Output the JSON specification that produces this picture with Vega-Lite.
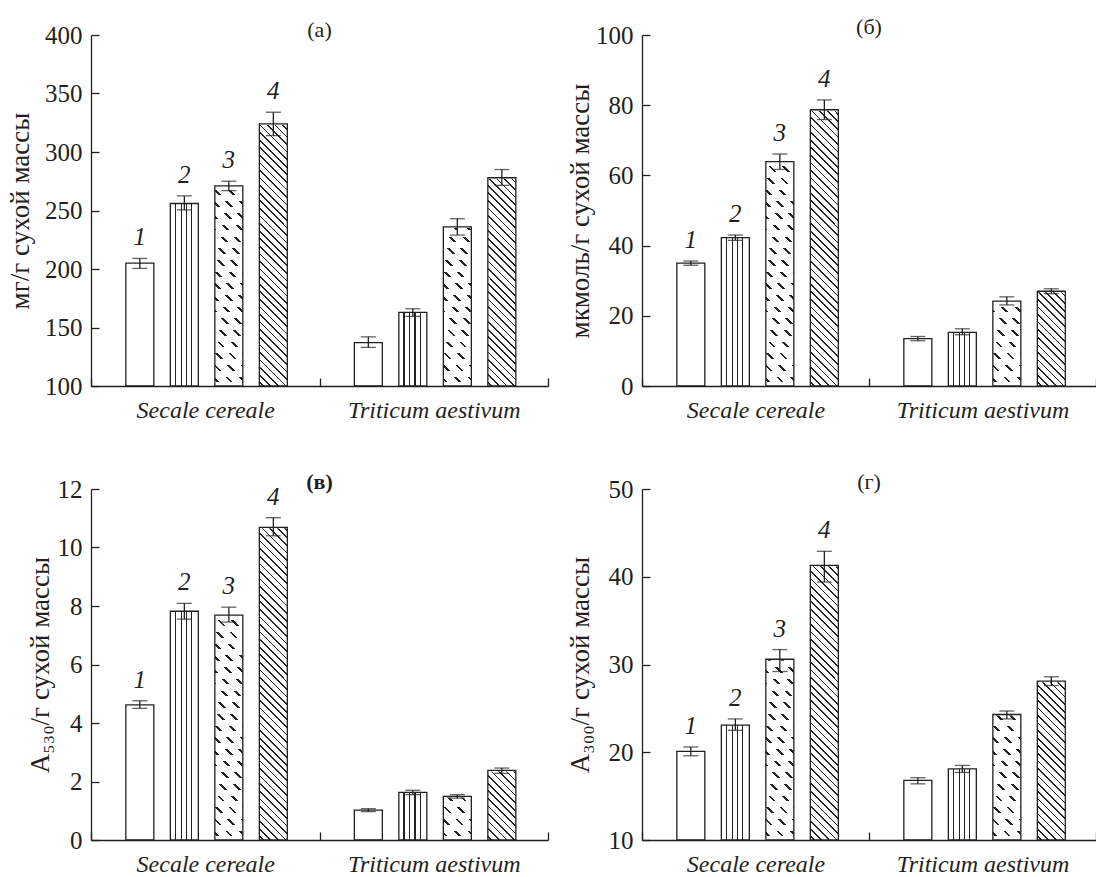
{
  "$schema": "https://vega.github.io/schema/vega-lite/v6.json",
  "padding": {"left": 6, "top": 16, "right": 0, "bottom": 0},
  "bounds": "flush",
  "columns": 2,
  "spacing": {"row": 103, "column": 94},
  "params": [
    {"name": "gs", "value": {"gradient": "linear", "x1": 0, "y1": 0, "x2": 1, "y2": 0, "stops": [
        {"offset": 0, "color": "#fff"},
        {"offset": 0.158, "color": "#fff"}, {"offset": 0.158, "color": "#222"}, {"offset": 0.203, "color": "#222"}, {"offset": 0.203, "color": "#fff"},
        {"offset": 0.368, "color": "#fff"}, {"offset": 0.368, "color": "#222"}, {"offset": 0.413, "color": "#222"}, {"offset": 0.413, "color": "#fff"},
        {"offset": 0.558, "color": "#fff"}, {"offset": 0.558, "color": "#222"}, {"offset": 0.603, "color": "#222"}, {"offset": 0.603, "color": "#fff"},
        {"offset": 0.738, "color": "#fff"}, {"offset": 0.738, "color": "#222"}, {"offset": 0.783, "color": "#222"}, {"offset": 0.783, "color": "#fff"},
        {"offset": 1, "color": "#fff"}]}},
    {"name": "g4", "value": {"gradient": "linear", "x1": 0, "y1": 1, "x2": 0.0856, "y2": -0.073, "stops": [
        {"offset": 0, "color": "#fff"},
        {"offset": 0.008, "color": "#fff"}, {"offset": 0.008, "color": "#222"}, {"offset": 0.0125, "color": "#222"}, {"offset": 0.0125, "color": "#fff"},
        {"offset": 0.028, "color": "#fff"}, {"offset": 0.028, "color": "#222"}, {"offset": 0.0325, "color": "#222"}, {"offset": 0.0325, "color": "#fff"},
        {"offset": 0.048, "color": "#fff"}, {"offset": 0.048, "color": "#222"}, {"offset": 0.0525, "color": "#222"}, {"offset": 0.0525, "color": "#fff"},
        {"offset": 0.068, "color": "#fff"}, {"offset": 0.068, "color": "#222"}, {"offset": 0.0725, "color": "#222"}, {"offset": 0.0725, "color": "#fff"},
        {"offset": 0.088, "color": "#fff"}, {"offset": 0.088, "color": "#222"}, {"offset": 0.0925, "color": "#222"}, {"offset": 0.0925, "color": "#fff"},
        {"offset": 0.108, "color": "#fff"}, {"offset": 0.108, "color": "#222"}, {"offset": 0.1125, "color": "#222"}, {"offset": 0.1125, "color": "#fff"},
        {"offset": 0.128, "color": "#fff"}, {"offset": 0.128, "color": "#222"}, {"offset": 0.1325, "color": "#222"}, {"offset": 0.1325, "color": "#fff"},
        {"offset": 0.148, "color": "#fff"}, {"offset": 0.148, "color": "#222"}, {"offset": 0.1525, "color": "#222"}, {"offset": 0.1525, "color": "#fff"},
        {"offset": 0.168, "color": "#fff"}, {"offset": 0.168, "color": "#222"}, {"offset": 0.1725, "color": "#222"}, {"offset": 0.1725, "color": "#fff"},
        {"offset": 0.188, "color": "#fff"}, {"offset": 0.188, "color": "#222"}, {"offset": 0.1925, "color": "#222"}, {"offset": 0.1925, "color": "#fff"},
        {"offset": 0.208, "color": "#fff"}, {"offset": 0.208, "color": "#222"}, {"offset": 0.2125, "color": "#222"}, {"offset": 0.2125, "color": "#fff"},
        {"offset": 0.228, "color": "#fff"}, {"offset": 0.228, "color": "#222"}, {"offset": 0.2325, "color": "#222"}, {"offset": 0.2325, "color": "#fff"},
        {"offset": 0.248, "color": "#fff"}, {"offset": 0.248, "color": "#222"}, {"offset": 0.2525, "color": "#222"}, {"offset": 0.2525, "color": "#fff"},
        {"offset": 0.268, "color": "#fff"}, {"offset": 0.268, "color": "#222"}, {"offset": 0.2725, "color": "#222"}, {"offset": 0.2725, "color": "#fff"},
        {"offset": 0.288, "color": "#fff"}, {"offset": 0.288, "color": "#222"}, {"offset": 0.2925, "color": "#222"}, {"offset": 0.2925, "color": "#fff"},
        {"offset": 0.308, "color": "#fff"}, {"offset": 0.308, "color": "#222"}, {"offset": 0.3125, "color": "#222"}, {"offset": 0.3125, "color": "#fff"},
        {"offset": 0.328, "color": "#fff"}, {"offset": 0.328, "color": "#222"}, {"offset": 0.3325, "color": "#222"}, {"offset": 0.3325, "color": "#fff"},
        {"offset": 0.348, "color": "#fff"}, {"offset": 0.348, "color": "#222"}, {"offset": 0.3525, "color": "#222"}, {"offset": 0.3525, "color": "#fff"},
        {"offset": 0.368, "color": "#fff"}, {"offset": 0.368, "color": "#222"}, {"offset": 0.3725, "color": "#222"}, {"offset": 0.3725, "color": "#fff"},
        {"offset": 0.388, "color": "#fff"}, {"offset": 0.388, "color": "#222"}, {"offset": 0.3925, "color": "#222"}, {"offset": 0.3925, "color": "#fff"},
        {"offset": 0.408, "color": "#fff"}, {"offset": 0.408, "color": "#222"}, {"offset": 0.4125, "color": "#222"}, {"offset": 0.4125, "color": "#fff"},
        {"offset": 0.428, "color": "#fff"}, {"offset": 0.428, "color": "#222"}, {"offset": 0.4325, "color": "#222"}, {"offset": 0.4325, "color": "#fff"},
        {"offset": 0.448, "color": "#fff"}, {"offset": 0.448, "color": "#222"}, {"offset": 0.4525, "color": "#222"}, {"offset": 0.4525, "color": "#fff"},
        {"offset": 0.468, "color": "#fff"}, {"offset": 0.468, "color": "#222"}, {"offset": 0.4725, "color": "#222"}, {"offset": 0.4725, "color": "#fff"},
        {"offset": 0.488, "color": "#fff"}, {"offset": 0.488, "color": "#222"}, {"offset": 0.4925, "color": "#222"}, {"offset": 0.4925, "color": "#fff"},
        {"offset": 0.508, "color": "#fff"}, {"offset": 0.508, "color": "#222"}, {"offset": 0.5125, "color": "#222"}, {"offset": 0.5125, "color": "#fff"},
        {"offset": 0.528, "color": "#fff"}, {"offset": 0.528, "color": "#222"}, {"offset": 0.5325, "color": "#222"}, {"offset": 0.5325, "color": "#fff"},
        {"offset": 0.548, "color": "#fff"}, {"offset": 0.548, "color": "#222"}, {"offset": 0.5525, "color": "#222"}, {"offset": 0.5525, "color": "#fff"},
        {"offset": 0.568, "color": "#fff"}, {"offset": 0.568, "color": "#222"}, {"offset": 0.5725, "color": "#222"}, {"offset": 0.5725, "color": "#fff"},
        {"offset": 0.588, "color": "#fff"}, {"offset": 0.588, "color": "#222"}, {"offset": 0.5925, "color": "#222"}, {"offset": 0.5925, "color": "#fff"},
        {"offset": 0.608, "color": "#fff"}, {"offset": 0.608, "color": "#222"}, {"offset": 0.6125, "color": "#222"}, {"offset": 0.6125, "color": "#fff"},
        {"offset": 0.628, "color": "#fff"}, {"offset": 0.628, "color": "#222"}, {"offset": 0.6325, "color": "#222"}, {"offset": 0.6325, "color": "#fff"},
        {"offset": 0.648, "color": "#fff"}, {"offset": 0.648, "color": "#222"}, {"offset": 0.6525, "color": "#222"}, {"offset": 0.6525, "color": "#fff"},
        {"offset": 0.668, "color": "#fff"}, {"offset": 0.668, "color": "#222"}, {"offset": 0.6725, "color": "#222"}, {"offset": 0.6725, "color": "#fff"},
        {"offset": 0.688, "color": "#fff"}, {"offset": 0.688, "color": "#222"}, {"offset": 0.6925, "color": "#222"}, {"offset": 0.6925, "color": "#fff"},
        {"offset": 0.708, "color": "#fff"}, {"offset": 0.708, "color": "#222"}, {"offset": 0.7125, "color": "#222"}, {"offset": 0.7125, "color": "#fff"},
        {"offset": 0.728, "color": "#fff"}, {"offset": 0.728, "color": "#222"}, {"offset": 0.7325, "color": "#222"}, {"offset": 0.7325, "color": "#fff"},
        {"offset": 0.748, "color": "#fff"}, {"offset": 0.748, "color": "#222"}, {"offset": 0.7525, "color": "#222"}, {"offset": 0.7525, "color": "#fff"},
        {"offset": 0.768, "color": "#fff"}, {"offset": 0.768, "color": "#222"}, {"offset": 0.7725, "color": "#222"}, {"offset": 0.7725, "color": "#fff"},
        {"offset": 0.788, "color": "#fff"}, {"offset": 0.788, "color": "#222"}, {"offset": 0.7925, "color": "#222"}, {"offset": 0.7925, "color": "#fff"},
        {"offset": 0.808, "color": "#fff"}, {"offset": 0.808, "color": "#222"}, {"offset": 0.8125, "color": "#222"}, {"offset": 0.8125, "color": "#fff"},
        {"offset": 0.828, "color": "#fff"}, {"offset": 0.828, "color": "#222"}, {"offset": 0.8325, "color": "#222"}, {"offset": 0.8325, "color": "#fff"},
        {"offset": 0.848, "color": "#fff"}, {"offset": 0.848, "color": "#222"}, {"offset": 0.8525, "color": "#222"}, {"offset": 0.8525, "color": "#fff"},
        {"offset": 0.868, "color": "#fff"}, {"offset": 0.868, "color": "#222"}, {"offset": 0.8725, "color": "#222"}, {"offset": 0.8725, "color": "#fff"},
        {"offset": 0.888, "color": "#fff"}, {"offset": 0.888, "color": "#222"}, {"offset": 0.8925, "color": "#222"}, {"offset": 0.8925, "color": "#fff"},
        {"offset": 0.908, "color": "#fff"}, {"offset": 0.908, "color": "#222"}, {"offset": 0.9125, "color": "#222"}, {"offset": 0.9125, "color": "#fff"},
        {"offset": 0.928, "color": "#fff"}, {"offset": 0.928, "color": "#222"}, {"offset": 0.9325, "color": "#222"}, {"offset": 0.9325, "color": "#fff"},
        {"offset": 0.948, "color": "#fff"}, {"offset": 0.948, "color": "#222"}, {"offset": 0.9525, "color": "#222"}, {"offset": 0.9525, "color": "#fff"},
        {"offset": 0.968, "color": "#fff"}, {"offset": 0.968, "color": "#222"}, {"offset": 0.9725, "color": "#222"}, {"offset": 0.9725, "color": "#fff"},
        {"offset": 0.988, "color": "#fff"}, {"offset": 0.988, "color": "#222"}, {"offset": 0.9925, "color": "#222"}, {"offset": 0.9925, "color": "#fff"},
        {"offset": 1, "color": "#fff"}]}},
    {"name": "g3", "value": {"gradient": "linear", "x1": 0, "y1": 1, "x2": 0.0856, "y2": -0.073, "stops": [
        {"offset": 0, "color": "#fff"},
        {"offset": 0.015, "color": "#fff"}, {"offset": 0.015, "color": "#222"}, {"offset": 0.0225, "color": "#222"}, {"offset": 0.0225, "color": "#fff"},
        {"offset": 0.0507, "color": "#fff"}, {"offset": 0.0507, "color": "#222"}, {"offset": 0.0582, "color": "#222"}, {"offset": 0.0582, "color": "#fff"},
        {"offset": 0.0864, "color": "#fff"}, {"offset": 0.0864, "color": "#222"}, {"offset": 0.0939, "color": "#222"}, {"offset": 0.0939, "color": "#fff"},
        {"offset": 0.1221, "color": "#fff"}, {"offset": 0.1221, "color": "#222"}, {"offset": 0.1296, "color": "#222"}, {"offset": 0.1296, "color": "#fff"},
        {"offset": 0.1578, "color": "#fff"}, {"offset": 0.1578, "color": "#222"}, {"offset": 0.1653, "color": "#222"}, {"offset": 0.1653, "color": "#fff"},
        {"offset": 0.1935, "color": "#fff"}, {"offset": 0.1935, "color": "#222"}, {"offset": 0.201, "color": "#222"}, {"offset": 0.201, "color": "#fff"},
        {"offset": 0.2292, "color": "#fff"}, {"offset": 0.2292, "color": "#222"}, {"offset": 0.2367, "color": "#222"}, {"offset": 0.2367, "color": "#fff"},
        {"offset": 0.2649, "color": "#fff"}, {"offset": 0.2649, "color": "#222"}, {"offset": 0.2724, "color": "#222"}, {"offset": 0.2724, "color": "#fff"},
        {"offset": 0.3006, "color": "#fff"}, {"offset": 0.3006, "color": "#222"}, {"offset": 0.3081, "color": "#222"}, {"offset": 0.3081, "color": "#fff"},
        {"offset": 0.3363, "color": "#fff"}, {"offset": 0.3363, "color": "#222"}, {"offset": 0.3438, "color": "#222"}, {"offset": 0.3438, "color": "#fff"},
        {"offset": 0.372, "color": "#fff"}, {"offset": 0.372, "color": "#222"}, {"offset": 0.3795, "color": "#222"}, {"offset": 0.3795, "color": "#fff"},
        {"offset": 0.4077, "color": "#fff"}, {"offset": 0.4077, "color": "#222"}, {"offset": 0.4152, "color": "#222"}, {"offset": 0.4152, "color": "#fff"},
        {"offset": 0.4434, "color": "#fff"}, {"offset": 0.4434, "color": "#222"}, {"offset": 0.4509, "color": "#222"}, {"offset": 0.4509, "color": "#fff"},
        {"offset": 0.4791, "color": "#fff"}, {"offset": 0.4791, "color": "#222"}, {"offset": 0.4866, "color": "#222"}, {"offset": 0.4866, "color": "#fff"},
        {"offset": 0.5148, "color": "#fff"}, {"offset": 0.5148, "color": "#222"}, {"offset": 0.5223, "color": "#222"}, {"offset": 0.5223, "color": "#fff"},
        {"offset": 0.5505, "color": "#fff"}, {"offset": 0.5505, "color": "#222"}, {"offset": 0.558, "color": "#222"}, {"offset": 0.558, "color": "#fff"},
        {"offset": 0.5862, "color": "#fff"}, {"offset": 0.5862, "color": "#222"}, {"offset": 0.5937, "color": "#222"}, {"offset": 0.5937, "color": "#fff"},
        {"offset": 0.6219, "color": "#fff"}, {"offset": 0.6219, "color": "#222"}, {"offset": 0.6294, "color": "#222"}, {"offset": 0.6294, "color": "#fff"},
        {"offset": 0.6576, "color": "#fff"}, {"offset": 0.6576, "color": "#222"}, {"offset": 0.6651, "color": "#222"}, {"offset": 0.6651, "color": "#fff"},
        {"offset": 0.6933, "color": "#fff"}, {"offset": 0.6933, "color": "#222"}, {"offset": 0.7008, "color": "#222"}, {"offset": 0.7008, "color": "#fff"},
        {"offset": 0.729, "color": "#fff"}, {"offset": 0.729, "color": "#222"}, {"offset": 0.7365, "color": "#222"}, {"offset": 0.7365, "color": "#fff"},
        {"offset": 0.7647, "color": "#fff"}, {"offset": 0.7647, "color": "#222"}, {"offset": 0.7722, "color": "#222"}, {"offset": 0.7722, "color": "#fff"},
        {"offset": 0.8004, "color": "#fff"}, {"offset": 0.8004, "color": "#222"}, {"offset": 0.8079, "color": "#222"}, {"offset": 0.8079, "color": "#fff"},
        {"offset": 0.8361, "color": "#fff"}, {"offset": 0.8361, "color": "#222"}, {"offset": 0.8436, "color": "#222"}, {"offset": 0.8436, "color": "#fff"},
        {"offset": 0.8718, "color": "#fff"}, {"offset": 0.8718, "color": "#222"}, {"offset": 0.8793, "color": "#222"}, {"offset": 0.8793, "color": "#fff"},
        {"offset": 0.9075, "color": "#fff"}, {"offset": 0.9075, "color": "#222"}, {"offset": 0.915, "color": "#222"}, {"offset": 0.915, "color": "#fff"},
        {"offset": 0.9432, "color": "#fff"}, {"offset": 0.9432, "color": "#222"}, {"offset": 0.9507, "color": "#222"}, {"offset": 0.9507, "color": "#fff"},
        {"offset": 0.9789, "color": "#fff"}, {"offset": 0.9789, "color": "#222"}, {"offset": 0.9864, "color": "#222"}, {"offset": 0.9864, "color": "#fff"},
        {"offset": 1, "color": "#fff"}]}},
    {"name": "gb", "value": {"gradient": "linear", "x1": 0, "y1": 0, "x2": 0, "y2": 1, "stops": [
        {"offset": 0, "color": "#fff"},
        {"offset": 0.008, "color": "#fff"}, {"offset": 0.008, "color": "rgba(255,255,255,0)"}, {"offset": 0.024, "color": "rgba(255,255,255,0)"}, {"offset": 0.024, "color": "#fff"},
        {"offset": 0.0413, "color": "#fff"}, {"offset": 0.0413, "color": "rgba(255,255,255,0)"}, {"offset": 0.0573, "color": "rgba(255,255,255,0)"}, {"offset": 0.0573, "color": "#fff"},
        {"offset": 0.0746, "color": "#fff"}, {"offset": 0.0746, "color": "rgba(255,255,255,0)"}, {"offset": 0.0906, "color": "rgba(255,255,255,0)"}, {"offset": 0.0906, "color": "#fff"},
        {"offset": 0.1079, "color": "#fff"}, {"offset": 0.1079, "color": "rgba(255,255,255,0)"}, {"offset": 0.1239, "color": "rgba(255,255,255,0)"}, {"offset": 0.1239, "color": "#fff"},
        {"offset": 0.1412, "color": "#fff"}, {"offset": 0.1412, "color": "rgba(255,255,255,0)"}, {"offset": 0.1572, "color": "rgba(255,255,255,0)"}, {"offset": 0.1572, "color": "#fff"},
        {"offset": 0.1745, "color": "#fff"}, {"offset": 0.1745, "color": "rgba(255,255,255,0)"}, {"offset": 0.1905, "color": "rgba(255,255,255,0)"}, {"offset": 0.1905, "color": "#fff"},
        {"offset": 0.2078, "color": "#fff"}, {"offset": 0.2078, "color": "rgba(255,255,255,0)"}, {"offset": 0.2238, "color": "rgba(255,255,255,0)"}, {"offset": 0.2238, "color": "#fff"},
        {"offset": 0.2411, "color": "#fff"}, {"offset": 0.2411, "color": "rgba(255,255,255,0)"}, {"offset": 0.2571, "color": "rgba(255,255,255,0)"}, {"offset": 0.2571, "color": "#fff"},
        {"offset": 0.2744, "color": "#fff"}, {"offset": 0.2744, "color": "rgba(255,255,255,0)"}, {"offset": 0.2904, "color": "rgba(255,255,255,0)"}, {"offset": 0.2904, "color": "#fff"},
        {"offset": 0.3077, "color": "#fff"}, {"offset": 0.3077, "color": "rgba(255,255,255,0)"}, {"offset": 0.3237, "color": "rgba(255,255,255,0)"}, {"offset": 0.3237, "color": "#fff"},
        {"offset": 0.341, "color": "#fff"}, {"offset": 0.341, "color": "rgba(255,255,255,0)"}, {"offset": 0.357, "color": "rgba(255,255,255,0)"}, {"offset": 0.357, "color": "#fff"},
        {"offset": 0.3743, "color": "#fff"}, {"offset": 0.3743, "color": "rgba(255,255,255,0)"}, {"offset": 0.3903, "color": "rgba(255,255,255,0)"}, {"offset": 0.3903, "color": "#fff"},
        {"offset": 0.4076, "color": "#fff"}, {"offset": 0.4076, "color": "rgba(255,255,255,0)"}, {"offset": 0.4236, "color": "rgba(255,255,255,0)"}, {"offset": 0.4236, "color": "#fff"},
        {"offset": 0.4409, "color": "#fff"}, {"offset": 0.4409, "color": "rgba(255,255,255,0)"}, {"offset": 0.4569, "color": "rgba(255,255,255,0)"}, {"offset": 0.4569, "color": "#fff"},
        {"offset": 0.4742, "color": "#fff"}, {"offset": 0.4742, "color": "rgba(255,255,255,0)"}, {"offset": 0.4902, "color": "rgba(255,255,255,0)"}, {"offset": 0.4902, "color": "#fff"},
        {"offset": 0.5075, "color": "#fff"}, {"offset": 0.5075, "color": "rgba(255,255,255,0)"}, {"offset": 0.5235, "color": "rgba(255,255,255,0)"}, {"offset": 0.5235, "color": "#fff"},
        {"offset": 0.5408, "color": "#fff"}, {"offset": 0.5408, "color": "rgba(255,255,255,0)"}, {"offset": 0.5568, "color": "rgba(255,255,255,0)"}, {"offset": 0.5568, "color": "#fff"},
        {"offset": 0.5741, "color": "#fff"}, {"offset": 0.5741, "color": "rgba(255,255,255,0)"}, {"offset": 0.5901, "color": "rgba(255,255,255,0)"}, {"offset": 0.5901, "color": "#fff"},
        {"offset": 0.6074, "color": "#fff"}, {"offset": 0.6074, "color": "rgba(255,255,255,0)"}, {"offset": 0.6234, "color": "rgba(255,255,255,0)"}, {"offset": 0.6234, "color": "#fff"},
        {"offset": 0.6407, "color": "#fff"}, {"offset": 0.6407, "color": "rgba(255,255,255,0)"}, {"offset": 0.6567, "color": "rgba(255,255,255,0)"}, {"offset": 0.6567, "color": "#fff"},
        {"offset": 0.674, "color": "#fff"}, {"offset": 0.674, "color": "rgba(255,255,255,0)"}, {"offset": 0.69, "color": "rgba(255,255,255,0)"}, {"offset": 0.69, "color": "#fff"},
        {"offset": 0.7073, "color": "#fff"}, {"offset": 0.7073, "color": "rgba(255,255,255,0)"}, {"offset": 0.7233, "color": "rgba(255,255,255,0)"}, {"offset": 0.7233, "color": "#fff"},
        {"offset": 0.7406, "color": "#fff"}, {"offset": 0.7406, "color": "rgba(255,255,255,0)"}, {"offset": 0.7566, "color": "rgba(255,255,255,0)"}, {"offset": 0.7566, "color": "#fff"},
        {"offset": 0.7739, "color": "#fff"}, {"offset": 0.7739, "color": "rgba(255,255,255,0)"}, {"offset": 0.7899, "color": "rgba(255,255,255,0)"}, {"offset": 0.7899, "color": "#fff"},
        {"offset": 0.8072, "color": "#fff"}, {"offset": 0.8072, "color": "rgba(255,255,255,0)"}, {"offset": 0.8232, "color": "rgba(255,255,255,0)"}, {"offset": 0.8232, "color": "#fff"},
        {"offset": 0.8405, "color": "#fff"}, {"offset": 0.8405, "color": "rgba(255,255,255,0)"}, {"offset": 0.8565, "color": "rgba(255,255,255,0)"}, {"offset": 0.8565, "color": "#fff"},
        {"offset": 0.8738, "color": "#fff"}, {"offset": 0.8738, "color": "rgba(255,255,255,0)"}, {"offset": 0.8898, "color": "rgba(255,255,255,0)"}, {"offset": 0.8898, "color": "#fff"},
        {"offset": 0.9071, "color": "#fff"}, {"offset": 0.9071, "color": "rgba(255,255,255,0)"}, {"offset": 0.9231, "color": "rgba(255,255,255,0)"}, {"offset": 0.9231, "color": "#fff"},
        {"offset": 0.9404, "color": "#fff"}, {"offset": 0.9404, "color": "rgba(255,255,255,0)"}, {"offset": 0.9564, "color": "rgba(255,255,255,0)"}, {"offset": 0.9564, "color": "#fff"},
        {"offset": 0.9737, "color": "#fff"}, {"offset": 0.9737, "color": "rgba(255,255,255,0)"}, {"offset": 0.9897, "color": "rgba(255,255,255,0)"}, {"offset": 0.9897, "color": "#fff"},
        {"offset": 1, "color": "#fff"}]}}
  ],
  "data": {"values": [
    {"p": "a", "sp": "Secale cereale", "t": 1, "v": 205, "lo": 200.5, "hi": 209},
    {"p": "a", "sp": "Secale cereale", "t": 2, "v": 256, "lo": 250.5, "hi": 262.5},
    {"p": "a", "sp": "Secale cereale", "t": 3, "v": 271, "lo": 267, "hi": 275},
    {"p": "a", "sp": "Secale cereale", "t": 4, "v": 324, "lo": 314, "hi": 334},
    {"p": "a", "sp": "Triticum aestivum", "t": 1, "v": 137, "lo": 133, "hi": 142},
    {"p": "a", "sp": "Triticum aestivum", "t": 2, "v": 163, "lo": 159.5, "hi": 166},
    {"p": "a", "sp": "Triticum aestivum", "t": 3, "v": 236, "lo": 229, "hi": 243},
    {"p": "a", "sp": "Triticum aestivum", "t": 4, "v": 278, "lo": 271.5, "hi": 285},
    {"p": "b", "sp": "Secale cereale", "t": 1, "v": 35, "lo": 34.4, "hi": 35.6},
    {"p": "b", "sp": "Secale cereale", "t": 2, "v": 42.3, "lo": 41.5, "hi": 43},
    {"p": "b", "sp": "Secale cereale", "t": 3, "v": 63.9, "lo": 61.7, "hi": 66.1},
    {"p": "b", "sp": "Secale cereale", "t": 4, "v": 78.7, "lo": 75.9, "hi": 81.5},
    {"p": "b", "sp": "Triticum aestivum", "t": 1, "v": 13.5, "lo": 12.9, "hi": 14.1},
    {"p": "b", "sp": "Triticum aestivum", "t": 2, "v": 15.3, "lo": 14.6, "hi": 16.3},
    {"p": "b", "sp": "Triticum aestivum", "t": 3, "v": 24.2, "lo": 23.1, "hi": 25.4},
    {"p": "b", "sp": "Triticum aestivum", "t": 4, "v": 27, "lo": 26.3, "hi": 27.7},
    {"p": "c", "sp": "Secale cereale", "t": 1, "v": 4.62, "lo": 4.5, "hi": 4.76},
    {"p": "c", "sp": "Secale cereale", "t": 2, "v": 7.82, "lo": 7.55, "hi": 8.09},
    {"p": "c", "sp": "Secale cereale", "t": 3, "v": 7.69, "lo": 7.45, "hi": 7.96},
    {"p": "c", "sp": "Secale cereale", "t": 4, "v": 10.69, "lo": 10.4, "hi": 11.02},
    {"p": "c", "sp": "Triticum aestivum", "t": 1, "v": 1.02, "lo": 0.97, "hi": 1.07},
    {"p": "c", "sp": "Triticum aestivum", "t": 2, "v": 1.63, "lo": 1.55, "hi": 1.7},
    {"p": "c", "sp": "Triticum aestivum", "t": 3, "v": 1.49, "lo": 1.43, "hi": 1.55},
    {"p": "c", "sp": "Triticum aestivum", "t": 4, "v": 2.38, "lo": 2.28, "hi": 2.46},
    {"p": "d", "sp": "Secale cereale", "t": 1, "v": 20.1, "lo": 19.6, "hi": 20.6},
    {"p": "d", "sp": "Secale cereale", "t": 2, "v": 23.1, "lo": 22.5, "hi": 23.8},
    {"p": "d", "sp": "Secale cereale", "t": 3, "v": 30.6, "lo": 29.2, "hi": 31.7},
    {"p": "d", "sp": "Secale cereale", "t": 4, "v": 41.3, "lo": 39.4, "hi": 42.9},
    {"p": "d", "sp": "Triticum aestivum", "t": 1, "v": 16.8, "lo": 16.4, "hi": 17.1},
    {"p": "d", "sp": "Triticum aestivum", "t": 2, "v": 18.1, "lo": 17.7, "hi": 18.5},
    {"p": "d", "sp": "Triticum aestivum", "t": 3, "v": 24.3, "lo": 23.8, "hi": 24.7},
    {"p": "d", "sp": "Triticum aestivum", "t": 4, "v": 28.1, "lo": 27.6, "hi": 28.6}
  ]},
  "concat": [
    {
      "width": 457, "height": 351,
      "title": {"text": "(а)", "offset": -19},
      "transform": [{"filter": "datum.p == 'a'"}],
      "encoding": {
        "x": {"field": "sp", "type": "nominal", "sort": ["Secale cereale", "Triticum aestivum"], "scale": {"paddingInner": 0, "paddingOuter": 0}, "axis": {"title": null, "tickBand": "extent", "labelFont": "Liberation Serif", "labelFontStyle": "italic", "labelFontSize": 24, "labelAngle": 0, "labelPadding": 20}},
        "xOffset": {"field": "t", "type": "ordinal", "scale": {"paddingInner": 0.371, "paddingOuter": 0.753, "align": 0.52}}
      },
      "layer": [
        {"transform": [{"filter": "datum.t == 4"}], "mark": {"type": "bar", "fill": {"expr": "g4"}, "strokeWidth": 0}, "encoding": {"y": {"datum": 400, "type": "quantitative", "scale": {"domain": [100, 400], "nice": false, "zero": false}, "axis": {"values": [100, 150, 200, 250, 300, 350, 400], "title": "мг/г сухой массы", "titleX": -57}}, "y2": {"datum": 100}}},
        {"transform": [{"filter": "datum.t == 3"}], "mark": {"type": "bar", "fill": {"expr": "g3"}, "strokeWidth": 0}, "encoding": {"y": {"datum": 400, "type": "quantitative"}, "y2": {"datum": 100}}},
        {"transform": [{"filter": "datum.t == 3"}], "mark": {"type": "bar", "fill": {"expr": "gb"}, "strokeWidth": 0}, "encoding": {"y": {"datum": 400, "type": "quantitative"}, "y2": {"datum": 100}}},
        {"transform": [{"filter": "datum.t >= 3"}], "mark": {"type": "bar", "fill": "#ffffff", "stroke": "#ffffff", "strokeWidth": 2}, "encoding": {"y": {"field": "v", "type": "quantitative"}, "y2": {"datum": 400}}},
        {"transform": [{"filter": "datum.t == 2"}], "mark": {"type": "bar", "fill": {"expr": "gs"}, "strokeWidth": 0}, "encoding": {"y": {"field": "v", "type": "quantitative"}, "y2": {"datum": 100}}},
        {"mark": {"type": "bar", "fill": "transparent", "stroke": "#231f20", "strokeWidth": 1.3}, "encoding": {"y": {"field": "v", "type": "quantitative"}, "y2": {"datum": 100}}},
        {"mark": {"type": "rule", "color": "#231f20", "strokeWidth": 1.3}, "encoding": {"y": {"field": "lo", "type": "quantitative"}, "y2": {"field": "hi"}}},
        {"mark": {"type": "tick", "color": "#231f20", "thickness": 1.3, "size": 15}, "encoding": {"y": {"field": "hi", "type": "quantitative"}}},
        {"mark": {"type": "tick", "color": "#231f20", "thickness": 1.3, "size": 15}, "encoding": {"y": {"field": "lo", "type": "quantitative"}}},
        {"transform": [{"filter": "datum.sp == 'Secale cereale'"}], "mark": {"type": "text", "font": "Liberation Serif", "fontSize": 25, "fontStyle": "italic", "color": "#231f20", "dy": -21, "baseline": "middle"}, "encoding": {"y": {"field": "hi", "type": "quantitative"}, "text": {"field": "t"}}}
      ]
    },
    {
      "width": 454, "height": 351,
      "title": {"text": "(б)", "offset": -16},
      "transform": [{"filter": "datum.p == 'b'"}],
      "encoding": {
        "x": {"field": "sp", "type": "nominal", "sort": ["Secale cereale", "Triticum aestivum"], "scale": {"paddingInner": 0, "paddingOuter": 0}, "axis": {"title": null, "tickBand": "extent", "labelFont": "Liberation Serif", "labelFontStyle": "italic", "labelFontSize": 24, "labelAngle": 0, "labelPadding": 20}},
        "xOffset": {"field": "t", "type": "ordinal", "scale": {"paddingInner": 0.371, "paddingOuter": 0.753, "align": 0.52}}
      },
      "layer": [
        {"transform": [{"filter": "datum.t == 4"}], "mark": {"type": "bar", "fill": {"expr": "g4"}, "strokeWidth": 0}, "encoding": {"y": {"datum": 100, "type": "quantitative", "scale": {"domain": [0, 100], "nice": false}, "axis": {"values": [0, 20, 40, 60, 80, 100], "title": "мкмоль/г сухой массы", "titleX": -48}}, "y2": {"datum": 0}}},
        {"transform": [{"filter": "datum.t == 3"}], "mark": {"type": "bar", "fill": {"expr": "g3"}, "strokeWidth": 0}, "encoding": {"y": {"datum": 100, "type": "quantitative"}, "y2": {"datum": 0}}},
        {"transform": [{"filter": "datum.t == 3"}], "mark": {"type": "bar", "fill": {"expr": "gb"}, "strokeWidth": 0}, "encoding": {"y": {"datum": 100, "type": "quantitative"}, "y2": {"datum": 0}}},
        {"transform": [{"filter": "datum.t >= 3"}], "mark": {"type": "bar", "fill": "#ffffff", "stroke": "#ffffff", "strokeWidth": 2}, "encoding": {"y": {"field": "v", "type": "quantitative"}, "y2": {"datum": 100}}},
        {"transform": [{"filter": "datum.t == 2"}], "mark": {"type": "bar", "fill": {"expr": "gs"}, "strokeWidth": 0}, "encoding": {"y": {"field": "v", "type": "quantitative"}, "y2": {"datum": 0}}},
        {"mark": {"type": "bar", "fill": "transparent", "stroke": "#231f20", "strokeWidth": 1.3}, "encoding": {"y": {"field": "v", "type": "quantitative"}, "y2": {"datum": 0}}},
        {"mark": {"type": "rule", "color": "#231f20", "strokeWidth": 1.3}, "encoding": {"y": {"field": "lo", "type": "quantitative"}, "y2": {"field": "hi"}}},
        {"mark": {"type": "tick", "color": "#231f20", "thickness": 1.3, "size": 15}, "encoding": {"y": {"field": "hi", "type": "quantitative"}}},
        {"mark": {"type": "tick", "color": "#231f20", "thickness": 1.3, "size": 15}, "encoding": {"y": {"field": "lo", "type": "quantitative"}}},
        {"transform": [{"filter": "datum.sp == 'Secale cereale'"}], "mark": {"type": "text", "font": "Liberation Serif", "fontSize": 25, "fontStyle": "italic", "color": "#231f20", "dy": -21, "baseline": "middle"}, "encoding": {"y": {"field": "hi", "type": "quantitative"}, "text": {"field": "t"}}}
      ]
    },
    {
      "width": 457, "height": 351,
      "title": {"text": "(в)", "offset": -17, "fontWeight": "bold"},
      "transform": [{"filter": "datum.p == 'c'"}],
      "encoding": {
        "x": {"field": "sp", "type": "nominal", "sort": ["Secale cereale", "Triticum aestivum"], "scale": {"paddingInner": 0, "paddingOuter": 0}, "axis": {"title": null, "tickBand": "extent", "labelFont": "Liberation Serif", "labelFontStyle": "italic", "labelFontSize": 24, "labelAngle": 0, "labelPadding": 20}},
        "xOffset": {"field": "t", "type": "ordinal", "scale": {"paddingInner": 0.371, "paddingOuter": 0.753, "align": 0.52}}
      },
      "layer": [
        {"transform": [{"filter": "datum.t == 4"}], "mark": {"type": "bar", "fill": {"expr": "g4"}, "strokeWidth": 0}, "encoding": {"y": {"datum": 12, "type": "quantitative", "scale": {"domain": [0, 12], "nice": false}, "axis": {"values": [0, 2, 4, 6, 8, 10, 12], "title": "A₅₃₀/г сухой массы", "titleX": -37}}, "y2": {"datum": 0}}},
        {"transform": [{"filter": "datum.t == 3"}], "mark": {"type": "bar", "fill": {"expr": "g3"}, "strokeWidth": 0}, "encoding": {"y": {"datum": 12, "type": "quantitative"}, "y2": {"datum": 0}}},
        {"transform": [{"filter": "datum.t == 3"}], "mark": {"type": "bar", "fill": {"expr": "gb"}, "strokeWidth": 0}, "encoding": {"y": {"datum": 12, "type": "quantitative"}, "y2": {"datum": 0}}},
        {"transform": [{"filter": "datum.t >= 3"}], "mark": {"type": "bar", "fill": "#ffffff", "stroke": "#ffffff", "strokeWidth": 2}, "encoding": {"y": {"field": "v", "type": "quantitative"}, "y2": {"datum": 12}}},
        {"transform": [{"filter": "datum.t == 2"}], "mark": {"type": "bar", "fill": {"expr": "gs"}, "strokeWidth": 0}, "encoding": {"y": {"field": "v", "type": "quantitative"}, "y2": {"datum": 0}}},
        {"mark": {"type": "bar", "fill": "transparent", "stroke": "#231f20", "strokeWidth": 1.3}, "encoding": {"y": {"field": "v", "type": "quantitative"}, "y2": {"datum": 0}}},
        {"mark": {"type": "rule", "color": "#231f20", "strokeWidth": 1.3}, "encoding": {"y": {"field": "lo", "type": "quantitative"}, "y2": {"field": "hi"}}},
        {"mark": {"type": "tick", "color": "#231f20", "thickness": 1.3, "size": 15}, "encoding": {"y": {"field": "hi", "type": "quantitative"}}},
        {"mark": {"type": "tick", "color": "#231f20", "thickness": 1.3, "size": 15}, "encoding": {"y": {"field": "lo", "type": "quantitative"}}},
        {"transform": [{"filter": "datum.sp == 'Secale cereale'"}], "mark": {"type": "text", "font": "Liberation Serif", "fontSize": 25, "fontStyle": "italic", "color": "#231f20", "dy": -21, "baseline": "middle"}, "encoding": {"y": {"field": "hi", "type": "quantitative"}, "text": {"field": "t"}}}
      ]
    },
    {
      "width": 454, "height": 351,
      "title": {"text": "(г)", "offset": -17},
      "transform": [{"filter": "datum.p == 'd'"}],
      "encoding": {
        "x": {"field": "sp", "type": "nominal", "sort": ["Secale cereale", "Triticum aestivum"], "scale": {"paddingInner": 0, "paddingOuter": 0}, "axis": {"title": null, "tickBand": "extent", "labelFont": "Liberation Serif", "labelFontStyle": "italic", "labelFontSize": 24, "labelAngle": 0, "labelPadding": 20}},
        "xOffset": {"field": "t", "type": "ordinal", "scale": {"paddingInner": 0.371, "paddingOuter": 0.753, "align": 0.52}}
      },
      "layer": [
        {"transform": [{"filter": "datum.t == 4"}], "mark": {"type": "bar", "fill": {"expr": "g4"}, "strokeWidth": 0}, "encoding": {"y": {"datum": 50, "type": "quantitative", "scale": {"domain": [10, 50], "nice": false, "zero": false}, "axis": {"values": [10, 20, 30, 40, 50], "title": "A₃₀₀/г сухой массы", "titleX": -48}}, "y2": {"datum": 10}}},
        {"transform": [{"filter": "datum.t == 3"}], "mark": {"type": "bar", "fill": {"expr": "g3"}, "strokeWidth": 0}, "encoding": {"y": {"datum": 50, "type": "quantitative"}, "y2": {"datum": 10}}},
        {"transform": [{"filter": "datum.t == 3"}], "mark": {"type": "bar", "fill": {"expr": "gb"}, "strokeWidth": 0}, "encoding": {"y": {"datum": 50, "type": "quantitative"}, "y2": {"datum": 10}}},
        {"transform": [{"filter": "datum.t >= 3"}], "mark": {"type": "bar", "fill": "#ffffff", "stroke": "#ffffff", "strokeWidth": 2}, "encoding": {"y": {"field": "v", "type": "quantitative"}, "y2": {"datum": 50}}},
        {"transform": [{"filter": "datum.t == 2"}], "mark": {"type": "bar", "fill": {"expr": "gs"}, "strokeWidth": 0}, "encoding": {"y": {"field": "v", "type": "quantitative"}, "y2": {"datum": 10}}},
        {"mark": {"type": "bar", "fill": "transparent", "stroke": "#231f20", "strokeWidth": 1.3}, "encoding": {"y": {"field": "v", "type": "quantitative"}, "y2": {"datum": 10}}},
        {"mark": {"type": "rule", "color": "#231f20", "strokeWidth": 1.3}, "encoding": {"y": {"field": "lo", "type": "quantitative"}, "y2": {"field": "hi"}}},
        {"mark": {"type": "tick", "color": "#231f20", "thickness": 1.3, "size": 15}, "encoding": {"y": {"field": "hi", "type": "quantitative"}}},
        {"mark": {"type": "tick", "color": "#231f20", "thickness": 1.3, "size": 15}, "encoding": {"y": {"field": "lo", "type": "quantitative"}}},
        {"transform": [{"filter": "datum.sp == 'Secale cereale'"}], "mark": {"type": "text", "font": "Liberation Serif", "fontSize": 25, "fontStyle": "italic", "color": "#231f20", "dy": -21, "baseline": "middle"}, "encoding": {"y": {"field": "hi", "type": "quantitative"}, "text": {"field": "t"}}}
      ]
    }
  ],
  "config": {
    "view": {"stroke": null},
    "font": "Liberation Serif",
    "title": {"font": "Liberation Serif", "fontSize": 22, "fontWeight": "normal", "color": "#231f20", "frame": "group", "anchor": "middle", "baseline": "alphabetic"},
    "axis": {"domainColor": "#231f20", "domainWidth": 1.3, "tickColor": "#231f20", "tickWidth": 1.3, "tickSize": -8, "labelColor": "#231f20", "labelFont": "Liberation Serif", "titleColor": "#231f20", "titleFont": "Liberation Serif", "titleFontWeight": "normal", "grid": false},
    "axisY": {"labelFont": "Liberation Serif", "labelFontSize": 25, "labelPadding": 17, "titleFont": "Liberation Serif", "titleFontSize": 27},
    "axisX": {"labelFont": "Liberation Serif", "labelFontSize": 24, "labelFontStyle": "italic", "labelAngle": 0, "labelPadding": 20}
  }
}
